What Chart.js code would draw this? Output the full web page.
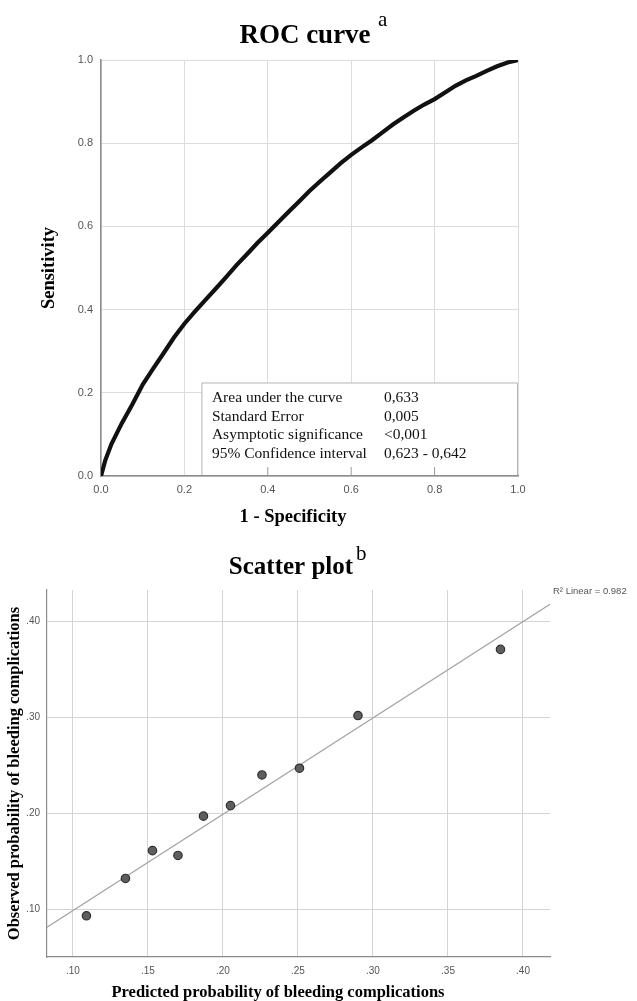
<!DOCTYPE html>
<html><head><meta charset="utf-8">
<script src="https://cdn.jsdelivr.net/npm/chart.js@4.4.1/dist/chart.umd.min.js"></script>
<style>
html,body{margin:0;padding:0;background:#fff;width:637px;height:1001px;overflow:hidden}
#w1{position:absolute;left:0;top:0;width:637px;height:530px}
#w2{position:absolute;left:0;top:530px;width:637px;height:471px}
canvas{display:block}
</style></head><body>
<div id="w1"><canvas id="c1" width="637" height="530"></canvas></div>
<div id="w2"><canvas id="c2" width="637" height="471"></canvas></div>
<script>
// ---------- data: ROC curve ----------
const rocFpr = [0, 0.01, 0.025, 0.05, 0.075, 0.1, 0.125, 0.15, 0.175, 0.2, 0.225, 0.25, 0.275, 0.3, 0.325, 0.35, 0.375, 0.4, 0.425, 0.45, 0.475, 0.5, 0.525, 0.55, 0.575, 0.6, 0.625, 0.65, 0.675, 0.7, 0.725, 0.75, 0.775, 0.8, 0.825, 0.85, 0.875, 0.9, 0.925, 0.95, 0.975, 1.0];
const rocTpr = [0, 0.037, 0.077, 0.127, 0.172, 0.22, 0.258, 0.295, 0.333, 0.366, 0.395, 0.423, 0.45, 0.478, 0.507, 0.533, 0.56, 0.585, 0.61, 0.635, 0.66, 0.685, 0.708, 0.73, 0.752, 0.772, 0.79, 0.807, 0.826, 0.845, 0.862, 0.878, 0.893, 0.906, 0.922, 0.938, 0.951, 0.962, 0.974, 0.985, 0.994, 1.0];
const rocTicks = [0, 0.2, 0.4, 0.6, 0.8, 1.0];
const statLabels = ['Area under the curve', 'Standard Error', 'Asymptotic significance', '95% Confidence interval'];
const statValues = ['0,633', '0,005', '<0,001', '0,623 - 0,642'];

// ---------- data: scatter plot ----------
const predicted = [0.109, 0.135, 0.153, 0.170, 0.187, 0.205, 0.226, 0.251, 0.290, 0.385];
const observed  = [0.093, 0.132, 0.161, 0.156, 0.197, 0.208, 0.240, 0.247, 0.302, 0.371];
const fitX = [0.0827, 0.418];
const fitY = [0.081, 0.418];
const scatterXTicks = [0.10, 0.15, 0.20, 0.25, 0.30, 0.35, 0.40];
const scatterYTicks = [0.10, 0.20, 0.30, 0.40];
const rSquaredText = 'R\u00B2 Linear = 0.982';

const SERIF = '"Liberation Serif", "Times New Roman", serif';
const SANS = '"Liberation Sans", Arial, sans-serif';

// ---------- ROC chart ----------
const rocDecor = {
  id: 'rocDecor',
  beforeDatasetsDraw(chart) {
    const ctx = chart.ctx, xs = chart.scales.x, ys = chart.scales.y;
    const bl = xs.getPixelForValue(0.242), br = xs.getPixelForValue(1.0) - 0.5;
    const bt = ys.getPixelForValue(0.2236), bb = ys.getPixelForValue(0) - 1;
    ctx.save();
    ctx.fillStyle = '#fff';
    ctx.fillRect(bl, bt, br - bl, bb - bt);
    ctx.strokeStyle = '#b5b5b5';
    ctx.lineWidth = 1;
    ctx.beginPath();
    ctx.moveTo(bl, bb); ctx.lineTo(bl, bt); ctx.lineTo(br, bt); ctx.lineTo(br, bb);
    ctx.stroke();
    ctx.strokeStyle = '#9a9a9a';
    rocTicks.forEach(v => {
      const px = xs.getPixelForValue(v);
      if (px > bl + 2 && px < br - 2) {
        ctx.beginPath(); ctx.moveTo(px, bb); ctx.lineTo(px, bb - 8); ctx.stroke();
      }
    });
    ctx.fillStyle = '#111';
    ctx.font = '15.5px ' + SERIF;
    ctx.textBaseline = 'middle';
    ctx.textAlign = 'left';
    statLabels.forEach((t, i) => {
      const y = bt + 15 + i * 18.5;
      ctx.fillText(t, bl + 10, y);
      ctx.fillText(statValues[i], bl + 182, y);
    });
    ctx.restore();
  },
  afterDraw(chart) {
    const ctx = chart.ctx;
    ctx.save();
    ctx.fillStyle = '#000';
    ctx.textBaseline = 'alphabetic';
    ctx.textAlign = 'center';
    ctx.font = 'bold 27px ' + SERIF;
    ctx.fillText('ROC curve', 305, 43);
    ctx.textAlign = 'left';
    ctx.font = '21px ' + SERIF;
    ctx.fillText('a', 378, 26);
    ctx.textAlign = 'center';
    ctx.textBaseline = 'middle';
    ctx.font = 'bold 18.5px ' + SERIF;
    ctx.fillText('1 - Specificity', 293, 517);
    ctx.restore();
  }
};

new Chart(document.getElementById('c1'), {
  type: 'scatter',
  data: {
    datasets: [{
      data: rocFpr.map((x, i) => ({x: x, y: rocTpr[i]})),
      showLine: true,
      borderColor: '#111',
      borderWidth: 4.2,
      pointRadius: 0,
      tension: 0
    }]
  },
  options: {
    responsive: false,
    animation: false,
    devicePixelRatio: 1,
    layout: {padding: {left: 0, right: 119, top: 60, bottom: 0}},
    plugins: {legend: {display: false}, tooltip: {enabled: false}},
    scales: {
      x: {
        type: 'linear', min: 0, max: 1,
        afterBuildTicks: s => { s.ticks = rocTicks.map(v => ({value: v})); },
        afterFit: s => { s.height = 54; },
        grid: {color: '#dcdcdc', lineWidth: 1, drawTicks: false},
        border: {color: '#8c8c8c', width: 1.5},
        ticks: {padding: 7, color: '#555', font: {family: SANS, size: 11}, maxRotation: 0, autoSkip: false,
          callback: v => Number(v).toFixed(1)}
      },
      y: {
        type: 'linear', min: 0, max: 1,
        afterBuildTicks: s => { s.ticks = rocTicks.map(v => ({value: v})); },
        afterFit: s => { s.width = 101; },
        grid: {color: '#dcdcdc', lineWidth: 1, drawTicks: false},
        border: {color: '#8c8c8c', width: 1.5},
        ticks: {padding: 8, color: '#555', font: {family: SANS, size: 11}, autoSkip: false,
          callback: v => Number(v).toFixed(1)},
        title: {display: true, text: 'Sensitivity', color: '#000',
          font: {family: SERIF, size: 18.5, weight: 'bold'}, padding: {top: 38, bottom: 0}}
      }
    }
  },
  plugins: [rocDecor]
});

// ---------- Scatter chart ----------
const scatterDecor = {
  id: 'scatterDecor',
  afterDraw(chart) {
    const ctx = chart.ctx;
    ctx.save();
    ctx.fillStyle = '#000';
    ctx.textBaseline = 'alphabetic';
    ctx.textAlign = 'center';
    ctx.font = 'bold 25px ' + SERIF;
    ctx.fillText('Scatter plot', 291, 44);
    ctx.textAlign = 'left';
    ctx.font = '21px ' + SERIF;
    ctx.fillText('b', 356, 30);
    ctx.textAlign = 'center';
    ctx.textBaseline = 'middle';
    ctx.font = 'bold 16.5px ' + SERIF;
    ctx.fillText('Predicted probability of bleeding complications', 278, 463);
    ctx.textAlign = 'left';
    ctx.fillStyle = '#555';
    ctx.font = '9.5px ' + SANS;
    ctx.fillText(rSquaredText, 553, 61);
    ctx.restore();
  }
};

const fmt2 = v => Number(v).toFixed(2).replace(/^0/, '');

new Chart(document.getElementById('c2'), {
  type: 'scatter',
  data: {
    datasets: [
      {
        data: predicted.map((x, i) => ({x: x, y: observed[i]})),
        pointRadius: 4.2,
        backgroundColor: '#5e5e5e',
        borderColor: '#2f2f2f',
        borderWidth: 1.2,
        order: 0
      },
      {
        data: fitX.map((x, i) => ({x: x, y: fitY[i]})),
        showLine: true,
        borderColor: '#a3a3a3',
        borderWidth: 1.2,
        pointRadius: 0,
        order: 1
      }
    ]
  },
  options: {
    responsive: false,
    animation: false,
    devicePixelRatio: 1,
    layout: {padding: {left: 0, right: 87, top: 60, bottom: 0}},
    plugins: {legend: {display: false}, tooltip: {enabled: false}},
    scales: {
      x: {
        type: 'linear', min: 0.0827, max: 0.418,
        afterBuildTicks: s => { s.ticks = scatterXTicks.map(v => ({value: v})); },
        afterFit: s => { s.height = 44; },
        grid: {color: '#d4d4d4', lineWidth: 1, drawTicks: false},
        border: {color: '#8c8c8c', width: 1.2},
        ticks: {padding: 8, color: '#555', font: {family: SANS, size: 10}, maxRotation: 0, autoSkip: false,
          callback: fmt2}
      },
      y: {
        type: 'linear', min: 0.05, max: 0.433,
        afterBuildTicks: s => { s.ticks = scatterYTicks.map(v => ({value: v})); },
        afterFit: s => { s.width = 47; },
        grid: {color: '#d4d4d4', lineWidth: 1, drawTicks: false},
        border: {color: '#8c8c8c', width: 1.2},
        ticks: {padding: 7, color: '#555', font: {family: SANS, size: 10}, autoSkip: false,
          callback: fmt2},
        title: {display: true, text: 'Observed probability of bleeding complications', color: '#000',
          font: {family: SERIF, size: 16.5, weight: 'bold'}, padding: {top: 5, bottom: 0}}
      }
    }
  },
  plugins: [scatterDecor]
});
</script>
</body></html>
